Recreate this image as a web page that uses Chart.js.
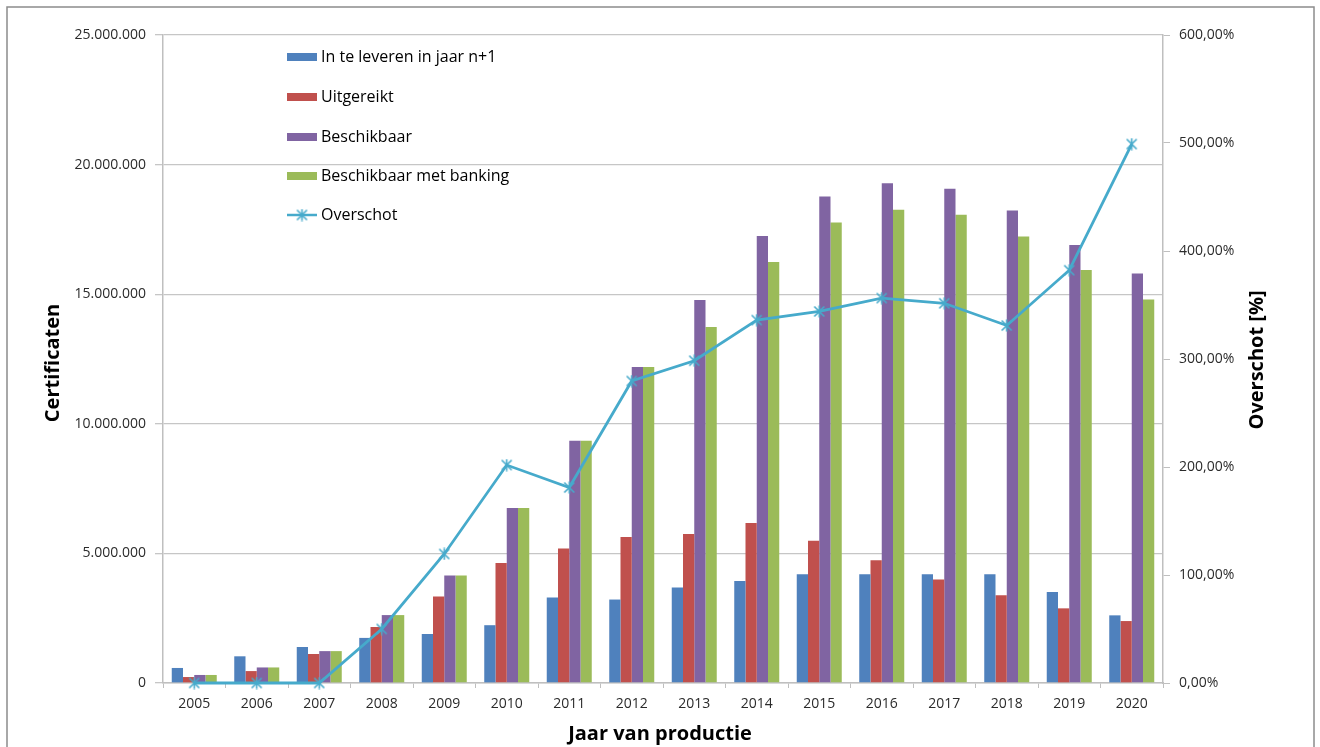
<!DOCTYPE html>
<html>
<head>
<meta charset="utf-8">
<title>Certificaten per productiejaar</title>
<script src="https://cdn.jsdelivr.net/npm/chart.js@4"></script>
<style>
    html, body { margin: 0; padding: 0; background: #fff; }
    #wrap { width: 1320px; height: 747px; position: relative; }
</style>
</head>
<body>
<div id="wrap"><canvas id="chart" width="1320" height="747"></canvas></div>
<script>
// Data
var years = ['2005', '2006', '2007', '2008', '2009', '2010', '2011', '2012',
             '2013', '2014', '2015', '2016', '2017', '2018', '2019', '2020'];
var teLeveren = [580000, 1030000, 1390000, 1740000, 1890000, 2230000, 3300000, 3220000,
                 3680000, 3940000, 4200000, 4200000, 4200000, 4200000, 3510000, 2610000];
var uitgereikt = [230000, 460000, 1120000, 2160000, 3340000, 4630000, 5190000, 5630000,
                  5750000, 6170000, 5490000, 4740000, 3990000, 3390000, 2880000, 2390000];
var beschikbaar = [310000, 600000, 1230000, 2620000, 4150000, 6750000, 9350000, 12190000,
                   14780000, 17250000, 18770000, 19280000, 19070000, 18230000, 16900000, 15800000];
var metBanking = [310000, 600000, 1230000, 2620000, 4150000, 6750000, 9350000, 12190000,
                  13730000, 16240000, 17770000, 18260000, 18070000, 17230000, 15930000, 14800000];
var overschot = [0, 0, 0, 50, 119.5, 201.8, 181, 279.6,
                 298.4, 336, 344, 356.4, 351.6, 331, 382.2, 499];

var FONT = "'Open Sans', 'Liberation Sans', sans-serif";
var LINE_COLOR = '#46aacb';

// star marker: x with vertical stroke, like the Excel marker
function makeMarker(size, color) {
    var c = document.createElement('canvas');
    c.width = size; c.height = size;
    var g = c.getContext('2d');
    var m = 1.5, s = size - 1.5;
    g.strokeStyle = color;
    g.lineWidth = 1.6;
    g.beginPath();
    g.moveTo(m, m); g.lineTo(s, s);
    g.moveTo(s, m); g.lineTo(m, s);
    g.moveTo(size / 2, 0.5); g.lineTo(size / 2, size - 0.5);
    g.stroke();
    return c;
}
var marker = makeMarker(13, LINE_COLOR);

function fmtThousands(v) {
    return String(Math.round(v)).replace(/\B(?=(\d{3})+(?!\d))/g, '.');
}
function fmtPct(v) {
    return v.toFixed(2).replace('.', ',') + '%';
}

// frame and axis titles
var framePlugin = {
    id: 'frame',
    beforeDraw: function(chart) {
        var ctx = chart.ctx;
        ctx.save();
        ctx.fillStyle = '#fff';
        ctx.fillRect(0, 0, chart.width, chart.height);
        ctx.strokeStyle = '#8c8c8c';
        ctx.lineWidth = 1.5;
        ctx.strokeRect(7, 7, 1307, 760);
        ctx.restore();
    },
    afterDraw: function(chart) {
        var ctx = chart.ctx;
        ctx.save();
        ctx.fillStyle = '#000';
        ctx.font = 'bold 20px ' + FONT;
        ctx.textAlign = 'center';
        ctx.textBaseline = 'middle';
        ctx.fillText('Jaar van productie', 660, 734);

        ctx.translate(53, 363);
        ctx.rotate(-Math.PI / 2);
        ctx.fillText('Certificaten', 0, 0);
        ctx.restore();

        ctx.save();
        ctx.fillStyle = '#000';
        ctx.font = 'bold 20px ' + FONT;
        ctx.textAlign = 'center';
        ctx.textBaseline = 'middle';
        ctx.translate(1257, 360);
        ctx.rotate(-Math.PI / 2);
        ctx.fillText('Overschot [%]', 0, 0);
        ctx.restore();
    }
};

// legend inside the plot area, top left
var legendPlugin = {
    id: 'innerLegend',
    afterDatasetsDraw: function(chart) {
        var ctx = chart.ctx;
        var x0 = 287, rowY = [57, 97, 137, 176, 215];
        var order = [1, 2, 3, 4, 0];
        ctx.save();
        ctx.font = '16px ' + FONT;
        ctx.textBaseline = 'middle';
        ctx.fillStyle = '#000';
        order.forEach(function(idx, i) {
            var ds = chart.data.datasets[idx];
            var y = rowY[i];
            if (ds.type === 'line') {
                ctx.strokeStyle = ds.borderColor;
                ctx.lineWidth = 2.5;
                ctx.beginPath();
                ctx.moveTo(x0, y); ctx.lineTo(x0 + 30, y);
                ctx.stroke();
                ctx.drawImage(marker, x0 + 15 - 6.5, y - 6.5);
            } else {
                ctx.fillStyle = ds.backgroundColor;
                ctx.fillRect(x0, y - 4, 30, 8);
            }
            ctx.fillStyle = '#000';
            ctx.fillText(ds.label, x0 + 34, y);
        });
        ctx.restore();
    }
};

var ctx = document.getElementById('chart').getContext('2d');
new Chart(ctx, {
    data: {
        labels: years,
        datasets: [{
            type: 'line',
            label: 'Overschot',
            data: overschot,
            yAxisID: 'y1',
            borderColor: LINE_COLOR,
            backgroundColor: LINE_COLOR,
            borderWidth: 2.8,
            pointStyle: marker,
            pointRadius: 6,
            tension: 0,
            clip: false,
            order: 0
        }, {
            type: 'bar',
            label: 'In te leveren in jaar n+1',
            data: teLeveren,
            backgroundColor: '#4f81bd',
            order: 1
        }, {
            type: 'bar',
            label: 'Uitgereikt',
            data: uitgereikt,
            backgroundColor: '#c0504d',
            order: 1
        }, {
            type: 'bar',
            label: 'Beschikbaar',
            data: beschikbaar,
            backgroundColor: '#8064a2',
            order: 1
        }, {
            type: 'bar',
            label: 'Beschikbaar met banking',
            data: metBanking,
            backgroundColor: '#9bbb59',
            order: 1
        }]
    },
    options: {
        responsive: false,
        animation: false,
        layout: { padding: { top: 35, left: 0, right: 0, bottom: 0 } },
        datasets: {
            bar: { categoryPercentage: 0.72, barPercentage: 1.0 }
        },
        plugins: {
            legend: { display: false },
            tooltip: { enabled: false }
        },
        scales: {
            x: {
                offset: true,
                grid: {
                    offset: true,
                    drawOnChartArea: false,
                    drawTicks: true,
                    tickLength: 5,
                    color: '#bfbfbf'
                },
                border: { color: '#bfbfbf', width: 1.5 },
                ticks: {
                    color: '#2b2b2b',
                    font: { family: FONT, size: 14 },
                    padding: 8,
                    maxRotation: 0
                },
                afterFit: function(scale) { scale.height = 64; }
            },
            y: {
                position: 'left',
                min: 0,
                max: 25000000,
                ticks: {
                    stepSize: 5000000,
                    color: '#2b2b2b',
                    font: { family: FONT, size: 14 },
                    padding: 9,
                    callback: function(v) { return fmtThousands(v); }
                },
                grid: {
                    color: '#c6c6c6',
                    lineWidth: 1.3,
                    tickLength: 8
                },
                border: { color: '#bfbfbf', width: 1.5 },
                afterFit: function(scale) { scale.width = 163; }
            },
            y1: {
                position: 'right',
                min: 0,
                max: 600,
                ticks: {
                    stepSize: 100,
                    color: '#2b2b2b',
                    font: { family: FONT, size: 14 },
                    padding: 9,
                    callback: function(v) { return fmtPct(v); }
                },
                grid: {
                    drawOnChartArea: false,
                    color: '#bfbfbf',
                    tickLength: 7
                },
                border: { color: '#bfbfbf', width: 1.5 },
                afterFit: function(scale) { scale.width = 157; }
            }
        }
    },
    plugins: [framePlugin, legendPlugin]
});
</script>
</body>
</html>
